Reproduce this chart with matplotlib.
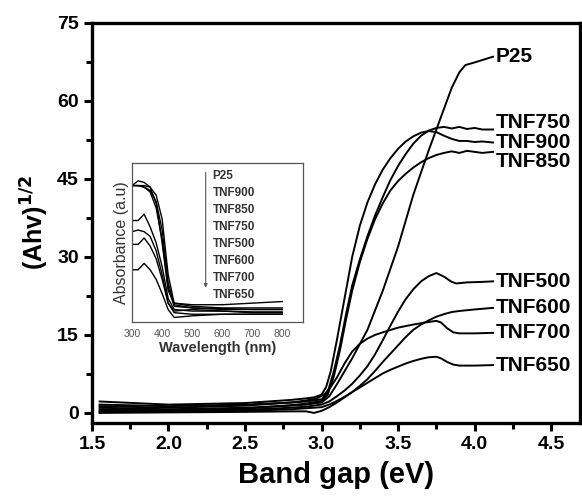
from matplotlib import pyplot as plt
from matplotlib.ticker import MultipleLocator

plt.rcParams['font.family'] = ['Liberation Sans', 'DejaVu Sans']

# main panel: (Ahv)^1/2 vs band gap (eV)
names = ['P25', 'TNF750', 'TNF900', 'TNF850', 'TNF500', 'TNF600', 'TNF700', 'TNF650']

x_p25 = [1.55, 2.0, 2.5, 2.8, 2.9, 3.0, 3.05, 3.1, 3.15, 3.2, 3.3, 3.4, 3.5, 3.6, 3.7,
         3.75, 3.8, 3.85, 3.9, 3.94, 4.0, 4.12]
y_p25 = [1.0, 0.7, 1.0, 1.4, 1.6, 2.0, 3.2, 5.5, 8.0, 10.5, 16.0, 23.5, 32.0, 42.0, 50.5,
         54.5, 58.5, 62.5, 65.5, 66.9, 67.4, 68.5]

x_900 = [1.55, 2.0, 2.5, 2.8, 2.9, 2.95, 3.0, 3.03, 3.06, 3.1, 3.15, 3.2, 3.25, 3.3, 3.35,
         3.4, 3.45, 3.5, 3.55, 3.6, 3.65, 3.7, 3.75, 3.8, 3.85, 3.9, 3.95, 4.0, 4.05, 4.12]
y_900 = [2.2, 1.6, 1.9, 2.5, 2.8, 3.0, 3.5, 5.0, 8.0, 14.0, 22.0, 30.0, 36.0, 40.5, 44.0,
         46.8, 49.0, 50.8, 52.2, 53.2, 53.9, 54.2, 54.0, 53.3, 52.7, 52.3, 52.3, 52.1, 52.2, 52.0]

x_750 = [1.55, 2.0, 2.5, 2.8, 2.9, 3.0, 3.04, 3.08, 3.12, 3.16, 3.2, 3.25, 3.3, 3.35, 3.4,
         3.45, 3.5, 3.55, 3.6, 3.65, 3.7, 3.75, 3.8, 3.85, 3.9, 3.95, 4.0, 4.05, 4.12]
y_750 = [1.6, 1.3, 1.6, 2.0, 2.2, 2.6, 4.0, 8.0, 13.0, 19.0, 24.5, 29.5, 34.0, 38.0, 41.5,
         44.8, 47.5, 49.8, 51.8, 53.3, 54.3, 54.8, 55.0, 54.7, 55.0, 54.6, 54.8, 54.5, 54.5]

x_850 = [1.55, 2.0, 2.5, 2.8, 2.9, 3.0, 3.04, 3.08, 3.12, 3.16, 3.2, 3.25, 3.3, 3.35, 3.4,
         3.45, 3.5, 3.55, 3.6, 3.65, 3.7, 3.75, 3.8, 3.85, 3.9, 3.95, 4.0, 4.05, 4.12]
y_850 = [0.7, 0.5, 0.8, 1.5, 1.8, 2.3, 3.5, 7.0, 12.0, 18.0, 23.5, 29.0, 33.5, 37.3, 40.3,
         42.8, 44.6, 46.0, 47.2, 48.2, 49.0, 49.6, 50.0, 50.3, 50.0, 50.4, 50.2, 50.0, 50.2]

x_500 = [1.55, 2.0, 2.5, 2.8, 2.9, 3.0, 3.05, 3.1, 3.15, 3.2, 3.25, 3.3, 3.35, 3.4, 3.45,
         3.5, 3.55, 3.6, 3.65, 3.7, 3.75, 3.8, 3.85, 3.88, 3.95, 4.05, 4.12]
y_500 = [0.4, 0.3, 0.6, 1.0, 1.2, 1.6, 2.2, 3.2, 4.3, 5.6, 7.2, 9.0, 11.3, 14.0, 16.8,
         19.5, 21.9, 23.8, 25.3, 26.3, 26.9, 26.2, 25.2, 24.9, 25.1, 25.2, 25.3]

x_600 = [1.55, 2.0, 2.5, 2.8, 2.9, 3.0, 3.05, 3.1, 3.15, 3.2, 3.25, 3.3, 3.35, 3.4, 3.45,
         3.5, 3.55, 3.6, 3.65, 3.7, 3.75, 3.8, 3.85, 3.9, 4.0, 4.12]
y_600 = [0.2, 0.2, 0.4, 0.7, 0.9, 1.1, 1.6, 2.3, 3.1, 4.0, 5.2, 6.5, 8.1, 9.8, 11.4,
         13.0, 14.6, 16.0, 17.0, 17.8, 18.5, 19.0, 19.4, 19.6, 19.9, 20.2]

x_700 = [1.55, 2.0, 2.5, 2.8, 2.9, 2.97, 3.02, 3.06, 3.1, 3.15, 3.2, 3.25, 3.3, 3.35, 3.4,
         3.5, 3.6, 3.7, 3.75, 3.78, 3.82, 3.86, 3.9, 4.0, 4.12]
y_700 = [1.3, 1.0, 1.4, 2.0, 2.4, 2.8, 3.6, 5.0, 6.8, 9.5, 11.8, 13.3, 14.3, 15.0, 15.5,
         16.4, 17.0, 17.5, 17.7, 17.4, 16.3, 15.5, 15.3, 15.3, 15.4]

x_650 = [1.55, 2.0, 2.5, 2.8, 2.9, 2.95, 3.0, 3.05, 3.1, 3.15, 3.2, 3.25, 3.3, 3.35, 3.4,
         3.45, 3.5, 3.55, 3.6, 3.65, 3.7, 3.75, 3.78, 3.82, 3.86, 3.9, 4.0, 4.12]
y_650 = [0.0, 0.1, 0.2, 0.3, 0.3, 0.0, 0.4, 1.1, 2.0, 3.0, 4.0, 4.9, 5.8, 6.7, 7.6,
         8.3, 8.9, 9.5, 10.0, 10.4, 10.7, 10.8, 10.5, 9.8, 9.3, 9.1, 9.1, 9.2]

# inset: absorbance vs wavelength
wl = [300, 320, 340, 360, 380, 400, 420, 440, 500, 600, 700, 800]
ins_names = ['P25', 'TNF900', 'TNF850', 'TNF750', 'TNF500', 'TNF600', 'TNF700', 'TNF650']
a_p25 = [0.86, 0.89, 0.88, 0.85, 0.75, 0.50, 0.20, 0.12, 0.11, 0.11, 0.12, 0.13]
a_900 = [0.86, 0.86, 0.86, 0.85, 0.80, 0.65, 0.30, 0.12, 0.10, 0.09, 0.09, 0.09]
a_850 = [0.86, 0.86, 0.85, 0.83, 0.76, 0.58, 0.25, 0.11, 0.09, 0.08, 0.08, 0.08]
a_750 = [0.86, 0.86, 0.85, 0.82, 0.72, 0.52, 0.22, 0.10, 0.09, 0.085, 0.08, 0.08]
a_500 = [0.64, 0.64, 0.68, 0.60, 0.50, 0.35, 0.15, 0.08, 0.07, 0.07, 0.06, 0.06]
a_600 = [0.57, 0.58, 0.57, 0.54, 0.45, 0.30, 0.12, 0.06, 0.05, 0.05, 0.05, 0.05]
a_700 = [0.49, 0.49, 0.53, 0.48, 0.40, 0.27, 0.12, 0.07, 0.08, 0.07, 0.065, 0.065]
a_650 = [0.33, 0.33, 0.37, 0.33, 0.27, 0.18, 0.08, 0.03, 0.04, 0.05, 0.05, 0.05]

fig = plt.figure(figsize=(5.82, 4.98), dpi=100)
ax = fig.add_axes([0.158, 0.151, 0.839, 0.803])

series = [(x_p25, y_p25), (x_750, y_750), (x_900, y_900), (x_850, y_850),
          (x_500, y_500), (x_600, y_600), (x_700, y_700), (x_650, y_650)]
# nudge labels so the top three don't collide
label_dy = [0, 5, 0, -7, 0, 0, 0, 0]
for (xs, ys), name, dy in zip(series, names, label_dy):
    ax.plot(xs, ys, color='black', lw=1.4)
    ax.annotate(name, (xs[-1], ys[-1]), xytext=(2, dy), textcoords='offset points',
                ha='left', va='center', fontsize=15, fontweight='bold')

ax.set_xlim(1.5, 4.69)
ax.set_ylim(-1.9, 75)
ax.xaxis.set_minor_locator(MultipleLocator(0.25))
ax.yaxis.set_minor_locator(MultipleLocator(7.5))
ax.set_xticks([1.5, 2.0, 2.5, 3.0, 3.5, 4.0, 4.5])
ax.set_xticklabels(['1.5', '2.0', '2.5', '3.0', '3.5', '4.0', '4.5'])
ax.set_yticks([0, 15, 30, 45, 60, 75])
ax.tick_params(which='major', direction='out', length=6, width=2.2, labelsize=14)
ax.tick_params(which='minor', direction='out', length=4, width=2.2)
for lab in ax.get_xticklabels() + ax.get_yticklabels():
    lab.set_fontweight('bold')
for sp in ax.spines.values():
    sp.set_linewidth(2.4)
ax.set_xlabel('Band gap (eV)', fontsize=21, fontweight='bold', labelpad=6)
ax.set_ylabel(r'(Ahv)$^{\mathbf{1/2}}$', fontsize=18, fontweight='bold', labelpad=4)

# inset
ins = fig.add_axes([0.227, 0.353, 0.294, 0.319])
for a in [a_p25, a_900, a_850, a_750, a_500, a_600, a_700, a_650]:
    ins.plot(wl, a, color='black', lw=1.0)
ins.set_xlim(300, 870)
ins.set_ylim(0, 1)
ins.set_yticks([])
ins.set_xticks([300, 400, 500, 600, 700, 800])
ins.tick_params(axis='x', length=0, labelsize=7.5, labelcolor='#555555', pad=5)
for sp in ins.spines.values():
    sp.set_linewidth(0.9)
    sp.set_color('#555555')
ins.set_xlabel('Wavelength (nm)', fontsize=10.5, fontweight='bold', color='#333333', labelpad=1)
ins.set_ylabel('Absorbance (a.u)', fontsize=11.5, color='#333333', labelpad=2)
for i, name in enumerate(ins_names):
    ins.text(0.47, 0.92 - i * 0.107, name, transform=ins.transAxes, fontsize=8.5,
             fontweight='bold', color='#333333', va='center', ha='left')
ins.annotate('', xy=(0.43, 0.2), xytext=(0.43, 0.96), xycoords='axes fraction',
             arrowprops=dict(arrowstyle='-|>', color='#555555', lw=0.8, mutation_scale=5))

fig.savefig('out.png', dpi=100)
